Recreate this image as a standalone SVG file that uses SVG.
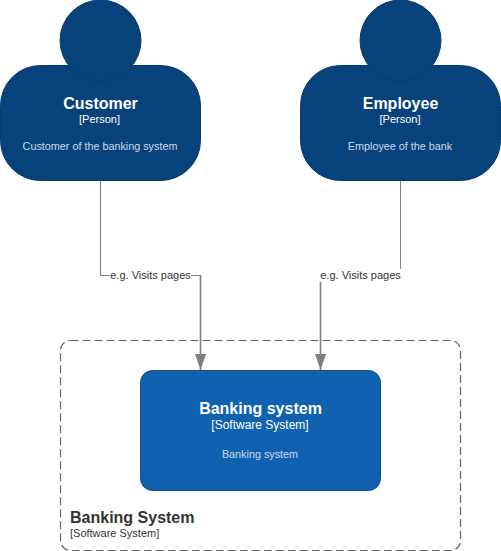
<svg xmlns="http://www.w3.org/2000/svg" width="501" height="551" viewBox="0 0 501 551">
<defs>
<marker id="arrow" markerUnits="userSpaceOnUse" markerWidth="16" markerHeight="12" refX="16" refY="6" orient="auto" viewBox="0 0 16 12" overflow="visible"><path d="M0 0.500 L16 6 L0 11.500 Z" fill="#808080"/></marker>
</defs>
<style>
text{font-family:"Liberation Sans",Arial,sans-serif;text-anchor:middle}
.person{fill:#08427b;stroke:#073b6f;stroke-width:1}
.sys{fill:#1061b0;stroke:#0d5091;stroke-width:1}
.name{font-size:16px;font-weight:bold;fill:#fff}
.tag{font-size:12px;fill:#fff}
.ptag{font-size:11px;fill:#fff}
.desc{font-size:10.800px;fill:#cedaea}
.conn{fill:none;stroke:#808080;stroke-width:1}
.thick{stroke-width:1.600}
.lab{font-size:11px;fill:#333}
</style>
<rect width="501" height="551" fill="#fff"/>
<g id="boundary">
<rect x="60.500" y="340.500" width="400" height="210" rx="10" fill="none" stroke="#666" stroke-width="1.200" stroke-dasharray="8 4"/>
<text x="70" y="523" style="text-anchor:start;font-size:16px;font-weight:bold;fill:#333">Banking System</text>
<text x="70" y="537" style="text-anchor:start;font-size:11px;fill:#333">[Software System]</text>
</g>
<g id="connectors">
<path class="conn" d="M100.500 181V275.500H110"/>
<path class="conn" d="M191 275.500H200.500"/>
<path class="conn thick" d="M200.500 275V370" marker-end="url(#arrow)"/>
<path class="conn" d="M400.500 181V269"/>
<path class="conn thick" d="M320.500 282V370" marker-end="url(#arrow)"/>
<text class="lab" x="150.500" y="279">e.g. Visits pages</text>
<text class="lab" x="360.500" y="279">e.g. Visits pages</text>
</g>
<g id="customer">
<rect class="person" x="0.500" y="65.500" width="200" height="115" rx="40"/>
<circle class="person" cx="100.500" cy="40.500" r="40.500"/>
<text class="name" x="100.500" y="108.500">Customer</text>
<text class="ptag" x="99.500" y="123">[Person]</text>
<text class="desc" x="100" y="150">Customer of the banking system</text>
</g>
<g id="employee">
<rect class="person" x="300.500" y="65.500" width="200" height="115" rx="40"/>
<circle class="person" cx="400.500" cy="40.500" r="40.500"/>
<text class="name" x="400.500" y="108.500">Employee</text>
<text class="ptag" x="400" y="123">[Person]</text>
<text class="desc" x="400" y="150">Employee of the bank</text>
</g>
<g id="banking-system">
<rect class="sys" x="140.500" y="370.500" width="240" height="120" rx="12"/>
<text class="name" x="260.500" y="413.500">Banking system</text>
<text class="tag" x="260" y="429">[Software System]</text>
<text class="desc" x="260" y="458">Banking system</text>
</g>
</svg>
